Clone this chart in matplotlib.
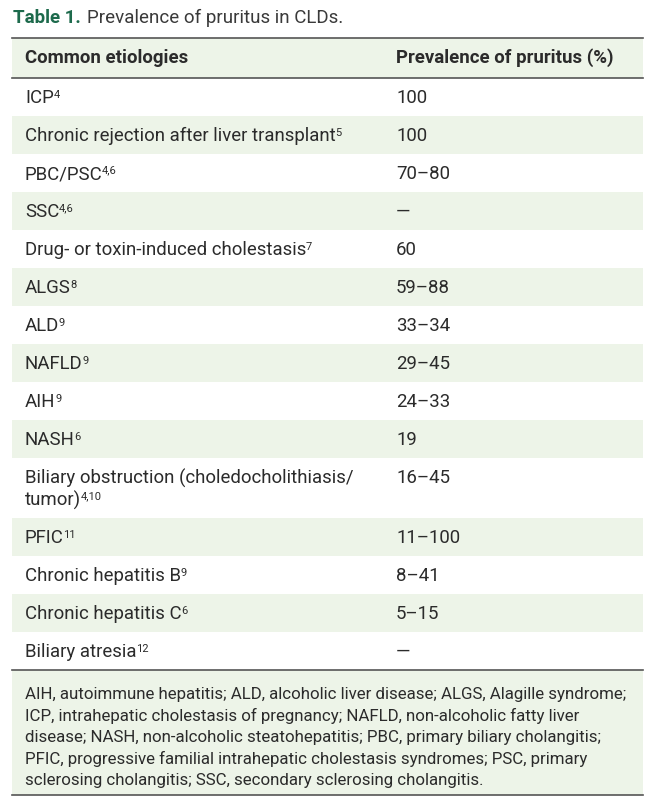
import matplotlib
matplotlib.use("Agg")
import matplotlib.pyplot as plt
from matplotlib.patches import Rectangle

plt.rcParams['font.family'] = ['Roboto', 'DejaVu Sans']

title_bold = "Table 1."
title_rest = "Prevalence of pruritus in CLDs."
headers = ["Common etiologies", "Prevalence of pruritus (%)"]

etiologies = ["ICP", "Chronic rejection after liver transplant", "PBC/PSC", "SSC",
              "Drug- or toxin-induced cholestasis", "ALGS", "ALD", "NAFLD", "AIH", "NASH",
              "Biliary obstruction (choledocholithiasis/\ntumor)", "PFIC",
              "Chronic hepatitis B", "Chronic hepatitis C", "Biliary atresia"]
refs = ["4", "5", "4,6", "4,6", "7", "8", "9", "9", "9", "6", "4,10", "11", "9", "6", "12"]
prevalence = ["100", "100", "70\u201380", "\u2014", "60", "59\u201388", "33\u201334", "29\u201345",
              "24\u201333", "19", "16\u201345", "11\u2013100", "8\u201341", "5\u201315", "\u2014"]

footnote = ["AIH, autoimmune hepatitis; ALD, alcoholic liver disease; ALGS, Alagille syndrome;",
            "ICP, intrahepatic cholestasis of pregnancy; NAFLD, non-alcoholic fatty liver",
            "disease; NASH, non-alcoholic steatohepatitis; PBC, primary biliary cholangitis;",
            "PFIC, progressive familial intrahepatic cholestasis syndromes; PSC, primary",
            "sclerosing cholangitis; SSC, secondary sclerosing cholangitis."]

W, H = 657, 809
green_bg = "#edf4e8"
line_col = "#555555"
txt_col = "#2b2b2b"
fs = 13.4

fig = plt.figure(figsize=(W / 100, H / 100), dpi=100)
ax = fig.add_axes([0, 0, 1, 1])
ax.set_xlim(0, W)
ax.set_ylim(H, 0)
ax.axis("off")
fig.canvas.draw()
renderer = fig.canvas.get_renderer()


def text_right(t):
    bb = t.get_window_extent(renderer)
    inv = ax.transData.inverted()
    return inv.transform((bb.x1, bb.y0))[0]


# title
t = ax.text(13, 18, title_bold, fontsize=13.5, fontweight="bold", color="#1d6a4c", va="center")
ax.text(text_right(t) + 6, 18, title_rest, fontsize=13.5, color="#3a3a3a", va="center")

x_left, x_right = 12, 643
col1, col2 = 25, 396

# header
top = 38
ax.add_patch(Rectangle((x_left, top), x_right - x_left, 40, color=green_bg, lw=0))
ax.text(col1, 58, headers[0], fontsize=fs, fontweight="bold", color=txt_col, va="center")
ax.text(col2, 58, headers[1], fontsize=fs, fontweight="bold", color=txt_col, va="center")
ax.plot([x_left, x_right], [top, top], color=line_col, lw=1.2)
ax.plot([x_left, x_right], [78, 78], color=line_col, lw=1.2)

y = 78
line_h = 22
for i, (name, ref, val) in enumerate(zip(etiologies, refs, prevalence)):
    lines = name.split("\n")
    rh = 38 if len(lines) == 1 else 60
    if i % 2 == 1:
        ax.add_patch(Rectangle((x_left, y), x_right - x_left, rh, color=green_bg, lw=0))
    y0 = y + rh / 2 - (len(lines) - 1) * line_h / 2 + 1
    for k, ln in enumerate(lines):
        t = ax.text(col1, y0 + k * line_h, ln, fontsize=fs, color=txt_col, va="center")
    ax.text(text_right(t) - 0.5, y0 + (len(lines) - 1) * line_h - 3.5, ref,
            fontsize=fs * 0.6, color=txt_col, va="center")
    ax.text(col2, y0, val, fontsize=fs, color=txt_col, va="center")
    y += rh

ax.plot([x_left, x_right], [y, y], color=line_col, lw=1.2)

# footnote block
fb_bottom = 795
ax.add_patch(Rectangle((x_left, y), x_right - x_left, fb_bottom - y, color=green_bg, lw=0))
for k, ln in enumerate(footnote):
    ax.text(col1, y + 24 + k * 21.7, ln, fontsize=12.2, color=txt_col, va="center")
ax.plot([x_left, x_right], [fb_bottom, fb_bottom], color=line_col, lw=1.2)

fig.savefig("out.png", dpi=100)
